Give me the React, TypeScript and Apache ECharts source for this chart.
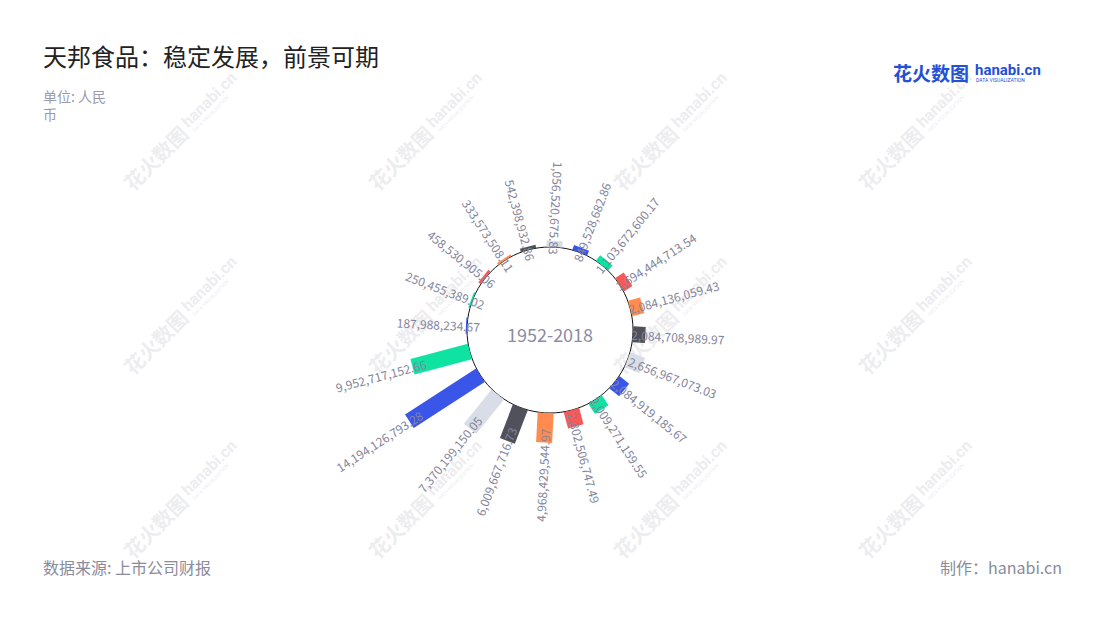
import React, { useEffect, useRef } from 'react';
import * as echarts from 'echarts';

const years = ['1999', '2000', '2001', '2002', '2003', '2004', '2005', '2006', '2007', '2008', '2009', '2010', '2011', '2012', '2013', '2014', '2015', '2016', '2017', '2018'];
const revenue = [
  187988234.67, 250455389.02, 458530905.06, 333573508.11, 542398932.86,
  1056520675.83, 849528682.86, 1103672600.17, 1694444713.54, 2084136059.43,
  2084708989.97, 2656967073.03, 2084919185.67, 2009271159.55, 2802506747.49,
  4968429544.97, 6009667716.73, 7370199150.05, 14194126793.28, 9952717152.66,
];
const palette = ['#3956e8', '#0ee3a2', '#f55a5a', '#ff8b50', '#50515b', '#d9dde8'];
const titleText = '天邦食品：稳定发展，前景可期';
const unitText = '单位: 人民\n币';
const sourceText = '数据来源: 上市公司财报';
const makerText = '制作：hanabi.cn';
const periodText = '1952-2018';
const radiusMax = 28000000000;

const CJK = '"Noto Sans CJK SC", "Noto Sans", sans-serif';
const LABEL_COLOR = '#83859b';

function fmt(v: number) {
  return v.toLocaleString('en-US', { minimumFractionDigits: 2, maximumFractionDigits: 2 });
}

function watermark(cx: number, cy: number) {
  const c = '#ededf0';
  return {
    type: 'group',
    x: cx,
    y: cy,
    rotation: Math.PI / 4,
    z: -10,
    silent: true,
    children: [
      { type: 'text', x: -2, y: 0, z: -10, style: { text: '花火数图', align: 'right', verticalAlign: 'middle', fontSize: 20, fontWeight: 'bold', fill: c, fontFamily: CJK } },
      { type: 'text', x: 2, y: -3, z: -10, style: { text: 'hanabi.cn', align: 'left', verticalAlign: 'middle', fontSize: 16, fontWeight: 'bold', fill: c, fontFamily: 'Roboto, sans-serif' } },
      { type: 'text', x: 4, y: 8, z: -10, style: { text: 'DATA VISUALIZATION', align: 'left', verticalAlign: 'middle', fontSize: 5, fill: c, fontFamily: 'Roboto, sans-serif' } },
    ],
  };
}

export default function App() {
  const ref = useRef<HTMLDivElement>(null);
  useEffect(() => {
    const chart = echarts.init(ref.current!, undefined, { renderer: 'svg' });
    const wms: any[] = [];
    [185, 430, 675, 920].forEach((x) => {
      [128, 312, 496].forEach((y) => wms.push(watermark(x, y)));
    });
    const option: any = {
      animation: false,
      backgroundColor: '#fff',
      polar: [
        { center: [550, 330], radius: [83, 250] },
        { center: [550, 330], radius: [0, 83] },
      ],
      angleAxis: [
        {
          polarIndex: 0,
          type: 'category',
          data: years,
          startAngle: 186,
          show: false,
        },
        {
          polarIndex: 1,
          type: 'value',
          min: 0,
          max: 360,
          axisLine: { show: true, lineStyle: { color: '#111', width: 1 } },
          axisTick: { show: false },
          axisLabel: { show: false },
          splitLine: { show: false },
        },
      ],
      radiusAxis: [
        { polarIndex: 0, type: 'value', min: 0, max: radiusMax, show: false },
        { polarIndex: 1, type: 'value', min: 0, max: 1, show: false },
      ],
      graphic: [
        ...wms,
        { type: 'text', x: 43, y: 55, style: { text: titleText, align: 'left', verticalAlign: 'middle', fontSize: 24, fill: '#222', fontFamily: CJK } },
        { type: 'text', x: 43, y: 87, style: { text: unitText, align: 'left', verticalAlign: 'top', fontSize: 14, lineHeight: 18, fill: '#9a9bab', fontFamily: CJK } },
        { type: 'text', x: 43, y: 567, style: { text: sourceText, align: 'left', verticalAlign: 'middle', fontSize: 16, fill: '#8a8b9b', fontFamily: CJK } },
        { type: 'text', x: 1062, y: 567, style: { text: makerText, align: 'right', verticalAlign: 'middle', fontSize: 16, fill: '#8a8b9b', fontFamily: CJK } },
        { type: 'text', x: 893, y: 72, style: { text: '花火数图', align: 'left', verticalAlign: 'middle', fontSize: 19, fontWeight: 'bold', fill: '#2450d6', fontFamily: CJK } },
        { type: 'text', x: 975, y: 70, style: { text: 'hanabi.cn', align: 'left', verticalAlign: 'middle', fontSize: 15, fontWeight: 'bold', fill: '#2450d6', fontFamily: 'Roboto, sans-serif' } },
        { type: 'text', x: 976, y: 80, style: { text: 'DATA VISUALIZATION', align: 'left', verticalAlign: 'middle', fontSize: 5, fill: '#2450d6', fontFamily: 'Roboto, sans-serif' } },
        { type: 'text', x: 550, y: 334, z: 5, style: { text: periodText, align: 'center', verticalAlign: 'middle', fontSize: 18, fill: '#8b8da2', fontFamily: CJK } },
      ],
      series: [
        {
          type: 'custom',
          coordinateSystem: 'polar',
          polarIndex: 0,
          z: 3,
          data: revenue.map((v, i) => [v, i]),
          encode: { radius: 0, angle: 1 },
          renderItem: (params: any, api: any) => {
            const idx = params.dataIndex;
            const v = api.value(0);
            const c = api.value(1);
            const p0 = api.coord([0, c]);
            const p1 = api.coord([v, c]);
            const pm = api.coord([radiusMax, c]);
            const dx = pm[0] - p0[0];
            const dy = pm[1] - p0[1];
            const L = Math.hypot(dx, dy);
            const ux = dx / L;
            const uy = dy / L;
            const nx = -uy;
            const ny = ux;
            const hw = 8;
            const points = [
              [p0[0] + nx * hw, p0[1] + ny * hw],
              [p1[0] + nx * hw, p1[1] + ny * hw],
              [p1[0] - nx * hw, p1[1] - ny * hw],
              [p0[0] - nx * hw, p0[1] - ny * hw],
            ];
            const theta = ((Math.atan2(ux, -uy) * 180) / Math.PI + 360) % 360;
            const rightSide = theta > 10 && theta < 175;
            const base = Math.atan2(-uy, ux);
            const off = 14;
            const ax = p1[0] - ux * off;
            const ay = p1[1] - uy * off;
            return {
              type: 'group',
              children: [
                {
                  type: 'polygon',
                  shape: { points },
                  style: { fill: palette[idx % palette.length] },
                },
                {
                  type: 'text',
                  x: ax,
                  y: ay,
                  rotation: rightSide ? base : base + Math.PI,
                  style: {
                    text: fmt(v),
                    align: rightSide ? 'left' : 'right',
                    verticalAlign: 'middle',
                    fontSize: 12,
                    fontFamily: CJK,
                    fill: LABEL_COLOR,
                  },
                },
              ],
            };
          },
        },
      ],
    };
    chart.setOption(option);
    return () => chart.dispose();
  }, []);
  return (
    <div
      ref={ref}
      style={{ position: 'fixed', left: 0, top: 0, width: 1100, height: 620, background: '#fff' }}
    />
  );
}
